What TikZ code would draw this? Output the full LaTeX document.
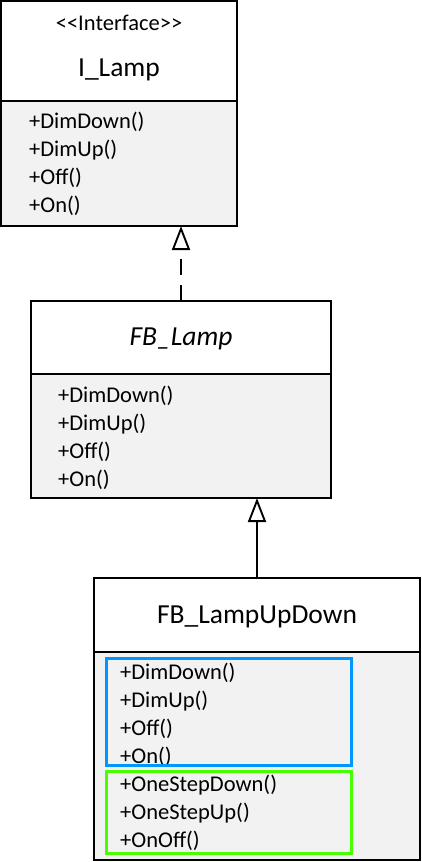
\documentclass[tikz,border=0pt]{standalone}
\usepackage{fontspec}
\setmainfont{Carlito}
\usetikzlibrary{arrows.meta,positioning}

\definecolor{opfill}{HTML}{F2F2F2}
\definecolor{inheritblue}{HTML}{0096FF}
\definecolor{addgreen}{HTML}{48FF00}

\begin{document}
\begin{tikzpicture}[
    box/.style={draw, line width=1.9pt, inner sep=0pt, outer sep=0pt},
    head/.style={box, fill=white},
    body/.style={box, fill=opfill},
    title/.style={anchor=base, font=\fontsize{27.5}{33}\selectfont},
    method/.style={anchor=base west, inner sep=0pt, font=\fontsize{22.5}{27}\selectfont},
    frame/.style={draw=#1, line width=3pt, inner sep=0pt},
    generalize/.style={line width=1.9pt, -{Triangle[open, length=24pt, width=18pt, fill=white]}},
  ]
  \useasboundingbox (0,0) rectangle (422pt,-862pt);

  % I_Lamp
  \node[head, minimum width=236pt, minimum height=100pt] (iLampHead) at (119pt,-51pt) {};
  \node[body, minimum width=236pt, minimum height=125pt, below=0pt of iLampHead] (iLampBody) {};
  \node[anchor=base, font=\fontsize{22.5}{27}\selectfont] (iLampStereo) at ([yshift=-29pt]iLampHead.north) {<{}<Interface>{}>};
  \node[title] (iLampName) at ([yshift=-75pt]iLampHead.north) {I\_Lamp};
  \foreach \m [count=\i from 0] in {DimDown,DimUp,Off,On}
    \node[method] (iLampOp\i) at ([xshift=28pt,yshift={-27pt-28pt*\i}]iLampBody.north west) {+\m()};

  % FB_Lamp
  \node[head, minimum width=300pt, minimum height=73pt] (fbLampHead) at (181pt,-337.5pt) {};
  \node[body, minimum width=300pt, minimum height=124pt, below=0pt of fbLampHead] (fbLampBody) {};
  \node[title, font=\fontsize{27.5}{33}\selectfont\itshape] (fbLampName) at ([yshift=-44pt]fbLampHead.north) {FB\_Lamp};
  \foreach \m [count=\i from 0] in {DimDown,DimUp,Off,On}
    \node[method] (fbLampOp\i) at ([xshift=27pt,yshift={-28pt-28pt*\i}]fbLampBody.north west) {+\m()};

  % FB_LampUpDown
  \node[head, minimum width=326pt, minimum height=74pt] (upDownHead) at (257pt,-615pt) {};
  \node[body, minimum width=326pt, minimum height=208pt, below=0pt of upDownHead] (upDownBody) {};
  \node[title] (upDownName) at ([yshift=-45pt]upDownHead.north) {FB\_LampUpDown};
  \foreach \m [count=\i from 0] in {DimDown,DimUp,Off,On,OneStepDown,OneStepUp,OnOff}
    \node[method] (upDownOp\i) at ([xshift=26pt,yshift={-27pt-28pt*\i}]upDownBody.north west) {+\m()};
  \node[frame=inheritblue, minimum width=245pt, minimum height=107pt] (inheritedOps) at (229pt,-712pt) {};
  \node[frame=addgreen, minimum width=245pt, minimum height=82pt] (addedOps) at (229pt,-812.5pt) {};

  % relations
  \draw[generalize, dash pattern=on 16pt off 10pt] (fbLampHead.north) -- (fbLampHead.north |- iLampBody.south);
  \draw[generalize] (upDownHead.north) -- (upDownHead.north |- fbLampBody.south);
\end{tikzpicture}
\end{document}
